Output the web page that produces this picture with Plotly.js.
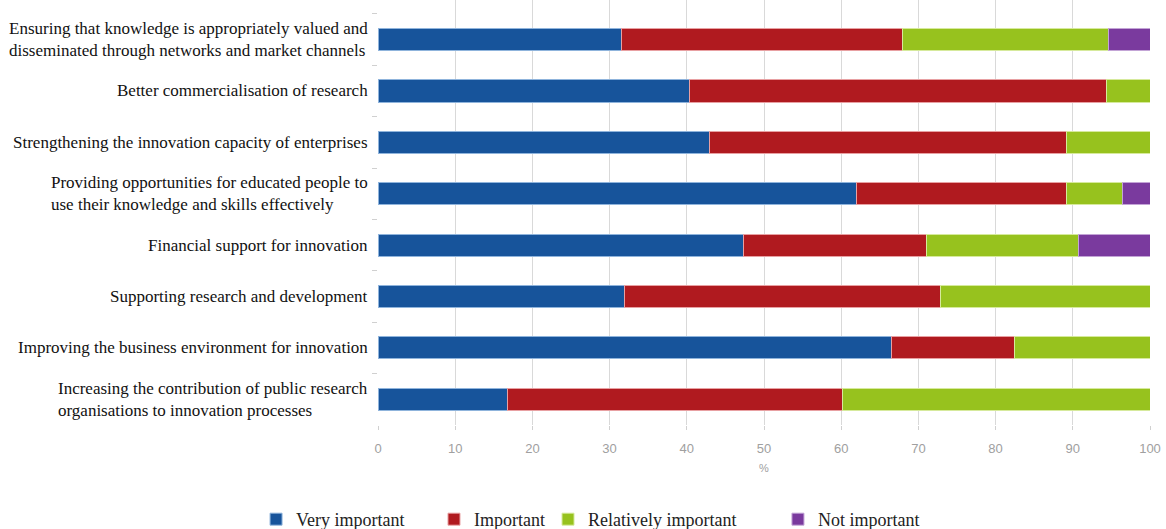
<!DOCTYPE html>
<html>
<head>
<meta charset="utf-8">
<script src="https://cdn.plot.ly/plotly-3.0.1.min.js"></script>
<style>html,body{margin:0;padding:0;background:#fff;}#chart{width:1166px;height:529px;}</style>
</head>
<body>
<div id="chart"></div>
<script>
const categories = [
  "Ensuring that knowledge is appropriately valued and<br>disseminated through networks and market channels",
  "Better commercialisation of research",
  "Strengthening the innovation capacity of enterprises",
  "Providing opportunities for educated people to<br>use their knowledge and skills effectively",
  "Financial support for innovation",
  "Supporting research and development",
  "Improving the business environment for innovation",
  "Increasing the contribution of public research<br>organisations to innovation processes"
];
const veryImportant       = [31.5, 40.4, 43.0, 62.0, 47.3, 31.9, 66.5, 16.8];
const important           = [36.4, 53.9, 46.2, 27.2, 23.7, 40.9, 15.9, 43.4];
const relativelyImportant = [26.7,  5.7, 10.8,  7.3, 19.8, 27.2, 17.6, 39.8];
const notImportant        = [ 5.4,  0.0,  0.0,  3.5,  9.2,  0.0,  0.0,  0.0];
const seriesNames = ["Very important", "Important", "Relatively important", "Not important"];
const xTicks = [0,10,20,30,40,50,60,70,80,90,100];

const colors = ["#17549b", "#b01a1f", "#97c21e", "#7a3a9e"];
const edge   = ["#8fb4dc", "#e8a0a2", "#d6ea9c", "#c3a4d6"];
const legendX = [0.2196, 0.3722, 0.4700, 0.6672];
const legendIds = ["legend", "legend2", "legend3", "legend4"];
const allSeries = [veryImportant, important, relativelyImportant, notImportant];

const serif = "Liberation Serif";
const sans = "Liberation Sans";

const traces = allSeries.map((vals, i) => ({
  type: "bar",
  orientation: "h",
  name: seriesNames[i],
  x: vals,
  y: categories,
  width: 0.43,
  marker: {color: colors[i], line: {color: edge[i], width: 1}},
  legend: legendIds[i],
  hoverinfo: "x+name"
}));

const legendBase = (x) => ({
  x: x, xref: "container", xanchor: "left",
  y: 0.018, yref: "container", yanchor: "middle",
  orientation: "h",
  font: {family: serif, size: 18, color: "#222"},
  bgcolor: "rgba(0,0,0,0)",
  itemwidth: 30
});

const annotations = categories.map(c => ({
  text: c, x: 0, xref: "paper", y: c, yref: "y",
  xanchor: "right", yanchor: "middle", align: "left", xshift: -8,
  showarrow: false,
  font: {family: serif, size: 17, color: "#111"}
}));

const layout = {
  width: 1166, height: 529,
  font: {family: serif, size: 17, color: "#222"},
  margin: {l: 378, r: 16, t: 0, b: 104},
  barmode: "stack",
  paper_bgcolor: "#fff", plot_bgcolor: "#fff",
  xaxis: {
    range: [0, 100],
    tickvals: xTicks,
    ticktext: xTicks.map(String),
    showgrid: true, gridcolor: "#d9d9d9", gridwidth: 1,
    zeroline: false,
    ticks: "outside", ticklen: 4, tickcolor: "#d0d0d0",
    ticklabelstandoff: 7,
    tickfont: {family: sans, size: 13, color: "#a0a0a0"},
    title: {text: "%", standoff: 9, font: {family: sans, size: 11, color: "#a0a0a0"}},
    showline: false
  },
  yaxis: {
    type: "category",
    range: [7.5, -0.77],
    showticklabels: false,
    showgrid: false,
    ticks: "outside", tickson: "boundaries", ticklen: 5, tickcolor: "#d0d0d0",
    showline: false, zeroline: false
  },
  annotations: annotations,
  legend: legendBase(legendX[0]),
  legend2: legendBase(legendX[1]),
  legend3: legendBase(legendX[2]),
  legend4: legendBase(legendX[3]),
  showlegend: true
};

Plotly.newPlot("chart", traces, layout, {displayModeBar: false, staticPlot: true});
</script>
</body>
</html>
